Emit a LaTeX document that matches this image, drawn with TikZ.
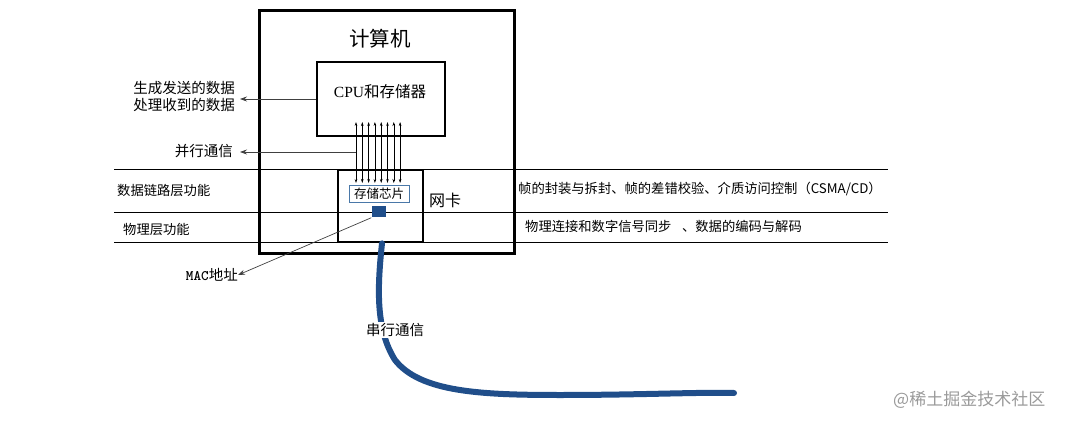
\documentclass[tikz,border=0pt]{standalone}
\usepackage{fontspec}
\newfontfamily\cjk{Noto Sans CJK SC}
\newfontfamily\cpufont{Liberation Serif}
\usepackage{tikz}
\usetikzlibrary{arrows.meta,positioning}
\definecolor{cableBlue}{HTML}{204E8A}
\definecolor{chipEdge}{HTML}{4A78A8}
\definecolor{markGray}{HTML}{9A9A9A}

\begin{document}
\begin{tikzpicture}[x=1pt,y=-1pt,
  unit/.style={draw, line width=2.7pt, inner sep=0pt},
  lbl/.style={inner sep=0pt, font=\cjk\fontsize{14.5}{17}\selectfont},
  lyr/.style={inner sep=0pt, font=\cjk\fontsize{13.3}{15}\selectfont},
  ptr/.style={draw=black!75, line width=0.7pt, -{Stealth[length=7pt,width=5pt]}},
  bus/.style={line width=0.6pt, {Stealth[length=4pt,width=2.6pt]}-{Stealth[length=4pt,width=2.6pt]}}]
\useasboundingbox (0,0) rectangle (1068,422);
% layer divider lines
\foreach \y in {169,212,242}
  \draw[line width=0.8pt] (114,\y) -- (888,\y);
% computer, cpu and network card
\node[unit, line width=3pt, minimum width=255, minimum height=242] (pc) at (386.5,132) {};
\node[lbl, font=\cjk\fontsize{20.5}{24}\selectfont] (pcname) at (380,39) {计算机};
\node[unit, minimum width=128, minimum height=74] (cpu) at (381,99) {};
\node[lbl, font=\cpufont\fontsize{15.5}{18}\selectfont] (cpuname) at (380,92) {CPU{\cjk 和存储器}};
\node[unit, minimum width=85, minimum height=72] (nic) at (380.5,206) {};
\node[draw=chipEdge, line width=0.8pt, fill=white, minimum width=60, minimum height=17,
  inner sep=0pt, font=\cjk\fontsize{12.5}{14}\selectfont] (chip) at (379,194) {存储芯片};
\node[fill=cableBlue, minimum width=14, minimum height=11, inner sep=0pt] (mac) at (378.5,212) {};
\node[lbl, font=\cjk\fontsize{16}{18}\selectfont, anchor=west] (niclbl) at (429,200) {网卡};
% parallel bus between cpu and card
\foreach \i in {0,...,7} {
  \coordinate (bt\i) at ({356+6.3*\i},122);
  \coordinate (bb\i) at ({356+6.3*\i},183);
  \draw[bus] (bt\i) -- (bb\i);
}
% left labels and pointers
\node[lbl, align=right, anchor=east] (gen) at (235,96) {生成发送的数据\\处理收到的数据};
\coordinate (genTip) at (240,0);
\draw[ptr] (cpu.west) -- (cpu.west -| genTip);
\node[lbl, anchor=east] (par) at (233,151) {并行通信};
\coordinate (parTip) at (240,152);
\draw[ptr] (bt0 |- parTip) -- (parTip);
\node[lyr, anchor=west] (dl) at (117,190) {数据链路层功能};
\node[lyr, anchor=west] (ph) at (123,229) {物理层功能};
% right labels
\node[lyr, anchor=west] (dlfn) at (518,189) {帧的封装与拆封、帧的差错校验、介质访问控制（CSMA/CD）};
\node[lyr, anchor=west] (phfn) at (525,226) {物理连接和数字信号同步\hspace{0.8em}、数据的编码与解码};
% mac address
\node[lbl, anchor=east] (maclbl) at (238,275) {{\ttfamily\bfseries MAC}地址};
\draw[ptr] (mac.south west) -- (maclbl.east);
% serial cable
\coordinate (cableEnd) at (734,393);
\draw[cableBlue, line width=6pt, line cap=round] ([xshift=1.5pt]nic.south)
  .. controls (377,290) and (376,330) .. (395,360)
  .. controls (420,392) and (480,395) .. (560,395)
  .. controls (640,395) and (700,392) .. (cableEnd);
\node[lbl, fill=white, inner sep=1.5pt] (serial) at (395,330) {串行通信};
\node[font=\cjk\fontsize{17}{20}\selectfont, text=markGray, anchor=west, inner sep=0pt] (mark) at (893,400) {@稀土掘金技术社区};
\end{tikzpicture}
\end{document}
